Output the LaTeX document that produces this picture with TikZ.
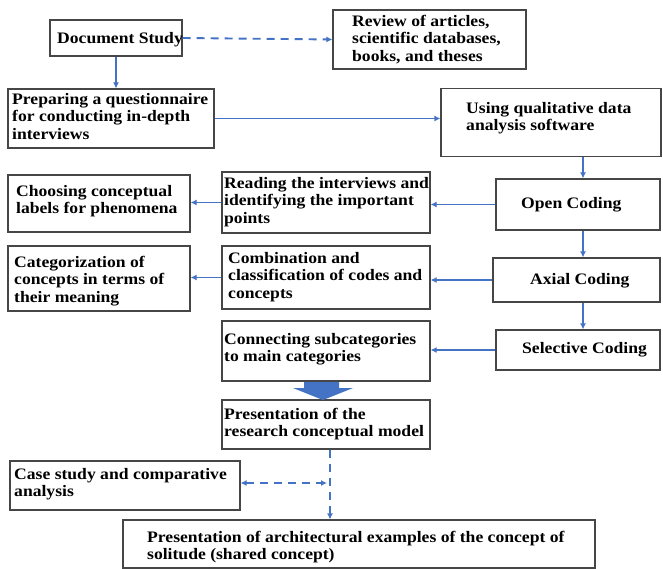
\documentclass[tikz,border=0pt]{standalone}
\usepackage{fontspec}
\setmainfont{Liberation Serif}[FakeStretch=1.1]
\usetikzlibrary{arrows.meta}
\definecolor{arrblue}{RGB}{68,114,196}
\definecolor{boxline}{RGB}{70,70,70}
\tikzset{
  box/.style={draw=boxline, line width=1.2pt, fill=white, inner sep=0pt},
  txt/.style={anchor=north west, inner sep=0pt, align=left,
    font=\fontsize{16}{17.5}\selectfont\bfseries},
  conn/.style={draw=arrblue, line width=1.9pt, -{Latex[length=6pt,width=6pt]}},
  dconn/.style={conn, dash pattern=on 8pt off 6pt},
}
\begin{document}
\begin{tikzpicture}[x=1pt, y=-1pt]
\useasboundingbox (0,0) rectangle (663,569);
\fill[white] (0,0) rectangle (663,569);
% boxes
\node[box, minimum width=132pt, minimum height=36pt] (doc) at (116,38) {};
\node[box, minimum width=193pt, minimum height=59pt] (rev) at (429.5,39.5) {};
\node[box, minimum width=206pt, minimum height=59pt] (prep) at (111,118.5) {};
\node[box, minimum width=220pt, minimum height=68pt] (use) at (551,122.5) {};
\node[box, minimum width=164pt, minimum height=51pt] (open) at (578,204.5) {};
\node[box, minimum width=208pt, minimum height=61pt] (read) at (326,202.5) {};
\node[box, minimum width=182pt, minimum height=57pt] (choose) at (99,203.5) {};
\node[box, minimum width=167pt, minimum height=44pt] (axial) at (576.5,280) {};
\node[box, minimum width=208pt, minimum height=63pt] (comb) at (326,277.5) {};
\node[box, minimum width=182pt, minimum height=65pt] (cat) at (99,278.5) {};
\node[box, minimum width=164pt, minimum height=40pt] (sel) at (578,350) {};
\node[box, minimum width=208pt, minimum height=60pt] (connb) at (326,351) {};
\node[box, minimum width=208pt, minimum height=49pt] (pres) at (326,424.5) {};
\node[box, minimum width=230pt, minimum height=49pt] (case) at (125,485.5) {};
\node[box, minimum width=472pt, minimum height=48pt] (bot) at (359,544) {};
% texts
\node[txt] at (57,31) {\strut Document Study};
\node[txt] at (352,14) {\strut Review of articles,\\scientific databases,\\books, and theses};
\node[txt] at (12,92) {\strut Preparing a questionnaire\\for conducting in-depth\\interviews};
\node[txt] at (466,101) {\strut Using qualitative data\\analysis software};
\node[txt] at (521,196) {\strut Open Coding};
\node[txt] at (224,176) {\strut Reading the interviews and\\identifying the important\\points};
\node[txt] at (16,184) {\strut Choosing conceptual\\labels for phenomena};
\node[txt] at (530,272) {\strut Axial Coding};
\node[txt] at (228,251) {\strut Combination and\\classification of codes and\\concepts};
\node[txt] at (14,255) {\strut Categorization of\\concepts in terms of\\their meaning};
\node[txt] at (522,341) {\strut Selective Coding};
\node[txt] at (224,332) {\strut Connecting subcategories\\to main categories};
\node[txt] at (224,407) {\strut Presentation of the\\research conceptual model};
\node[txt] at (14,467) {\strut Case study and comparative\\analysis};
\node[txt] at (147,530) {\strut Presentation of architectural examples of the concept of\\solitude (shared concept)};
% connectors
\draw[dconn] (doc.east) -- (rev.west);
\draw[conn] (doc.south) -- (doc.south |- prep.north);
\draw[conn] (prep.east) -- (use.west |- prep.east);
\draw[conn] (use.south -| 583,0) -- (583,0 |- open.north);
\draw[conn] (open.west) -- (read.east |- open.west);
\draw[conn] (read.west) -- (choose.east |- read.west);
\draw[conn] (open.south -| 583,0) -- (583,0 |- axial.north);
\draw[conn] (axial.west) -- (comb.east |- axial.west);
\draw[conn] (comb.west) -- (cat.east |- comb.west);
\draw[conn] (axial.south -| 583,0) -- (583,0 |- sel.north);
\draw[conn] (sel.west) -- (connb.east |- sel.west);
% block arrow
\fill[arrblue] (304,382) -- (339,382) -- (339,388) -- (353,388) -- (323,400) -- (293,388) -- (304,388) -- cycle;
% dashed bottom
\coordinate (jn) at (330,483);
\draw[dconn] (pres.south -| 330,0) -- (330,0 |- bot.north);
\draw[dconn, {Latex[length=6pt,width=6pt]}-{Latex[length=6pt,width=6pt]}] (case.east |- jn) -- (327,483);
\end{tikzpicture}
\end{document}
